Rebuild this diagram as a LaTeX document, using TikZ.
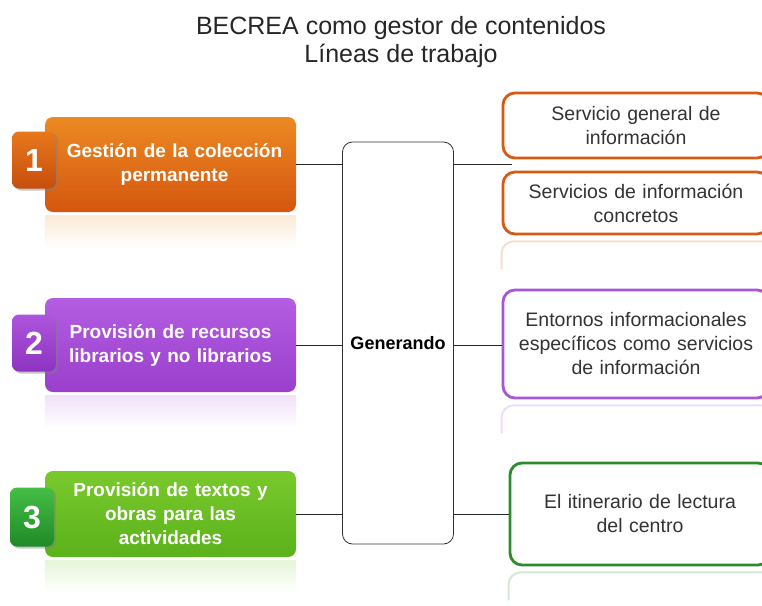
\documentclass[tikz,border=0pt]{standalone}
\usepackage{fontspec}
\setmainfont{Liberation Sans}
\usepackage{tikz}
\usetikzlibrary{calc,shadows}

\definecolor{oraTop}{HTML}{EC8A22}
\definecolor{oraBot}{HTML}{D4560F}
\definecolor{oraBdgTop}{HTML}{E8781C}
\definecolor{oraBdgBot}{HTML}{C64E0D}
\definecolor{purTop}{HTML}{B35DE2}
\definecolor{purBot}{HTML}{9A3FCC}
\definecolor{purBdgTop}{HTML}{AE55DD}
\definecolor{purBdgBot}{HTML}{8C34C0}
\definecolor{grnTop}{HTML}{79C92C}
\definecolor{grnBot}{HTML}{5BB21B}
\definecolor{grnBdgTop}{HTML}{45BE45}
\definecolor{grnBdgBot}{HTML}{1F8A28}
\definecolor{oraLine}{HTML}{D65A12}
\definecolor{purLine}{HTML}{A856D9}
\definecolor{grnLine}{HTML}{2C8C2C}
\definecolor{txtGray}{HTML}{333333}

\tikzset{
  linea/.style={rounded corners=8pt, minimum width=251pt, text width=235pt, align=center,
    text=white, font=\bfseries\fontsize{19}{24}\selectfont},
  numero/.style={rounded corners=7pt, minimum width=44pt, minimum height=57pt, text=white,
    font=\bfseries\fontsize{32}{32}\selectfont,
    drop shadow={opacity=0.45, shadow xshift=2pt, shadow yshift=-2pt}},
  servicio/.style={draw, line width=2.8pt, rounded corners=12pt, fill=white, minimum width=266pt,
    text width=252pt, align=center, text=txtGray, font=\fontsize{19.5}{24}\selectfont},
  conector/.style={draw=black!85, line width=1pt}
}

\begin{document}
\begin{tikzpicture}[x=1pt,y=-1pt]
                \useasboundingbox (0,0) rectangle (762,605);
                \clip (0,0) rectangle (762,605);
                \node [align=center, text=black!85, font=\fontsize{25}{28}\selectfont] (titulo) at (401,42)
                    {BECREA como gestor de contenidos\\L\'ineas de trabajo};

                \node [linea, minimum height=95pt, top color=oraTop, bottom color=oraBot] (g1) at (170.5,164.5)
                    {\hspace*{8pt}Gesti\'on de la colecci\'on\\\hspace*{8pt}permanente};
                \node [linea, minimum height=94pt, top color=purTop, bottom color=purBot] (g2) at (170.5,345)
                    {Provisi\'on de recursos\\librarios y no librarios};
                \node [linea, minimum height=86pt, top color=grnTop, bottom color=grnBot] (g3) at (170.5,514)
                    {Provisi\'on de textos y\\obras para las\\actividades};
                \foreach \g/\c in {g1/oraTop, g2/purTop, g3/grnTop}
                    \shade [top color=\c!18, bottom color=white] ([yshift=-3pt]\g.south west) rectangle ([yshift=-36pt]\g.south east);

                \node [numero, top color=oraBdgTop, bottom color=oraBdgBot] (n1) at (34,160) {1};
                \node [numero, top color=purBdgTop, bottom color=purBdgBot] (n2) at (34,343) {2};
                \node [numero, minimum height=59pt, top color=grnBdgTop, bottom color=grnBdgBot] (n3) at (32,517) {3};

                \node [draw=black!80, line width=0.8pt, rounded corners=10pt, minimum width=111pt, minimum height=402pt,
                    font=\bfseries\fontsize{18}{20}\selectfont] (gen) at (398,343) {Generando};

                \node [servicio, draw=oraLine, minimum height=65pt] (s1) at (636,125.5) {Servicio general de\\informaci\'on};
                \node [servicio, draw=oraLine, minimum height=62pt] (s2) at (636,203) {Servicios de informaci\'on\\concretos};
                \node [servicio, draw=purLine, minimum height=108pt] (s3) at (636,344)
                    {Entornos informacionales\\espec\'ificos como servicios\\de informaci\'on};
                \node [servicio, draw=grnLine, minimum width=260pt, minimum height=102pt] (s4) at (640,514)
                    {El itinerario de lectura\\del centro};
                \foreach \s/\c in {s2/oraLine, s3/purLine, s4/grnLine}
                    \draw [\c!20, line width=2pt, rounded corners=12pt] ([yshift=-34pt]\s.south west) |- ([yshift=-6pt]\s.south east);

                \coordinate (e1) at (512,164.5);
                \draw [conector] (g1.east) -- (g1.east -| gen.west);
                \draw [conector] (gen.east |- g1.east) -- (e1);
                \draw [conector] (g2.east) -- (g2.east -| gen.west);
                \draw [conector] (gen.east |- g2.east) -- (s3.west |- g2.east);
                \draw [conector] (g3.east) -- (g3.east -| gen.west);
                \draw [conector] (gen.east |- g3.east) -- (s4.west |- g3.east);
            \end{tikzpicture}
\end{document}
